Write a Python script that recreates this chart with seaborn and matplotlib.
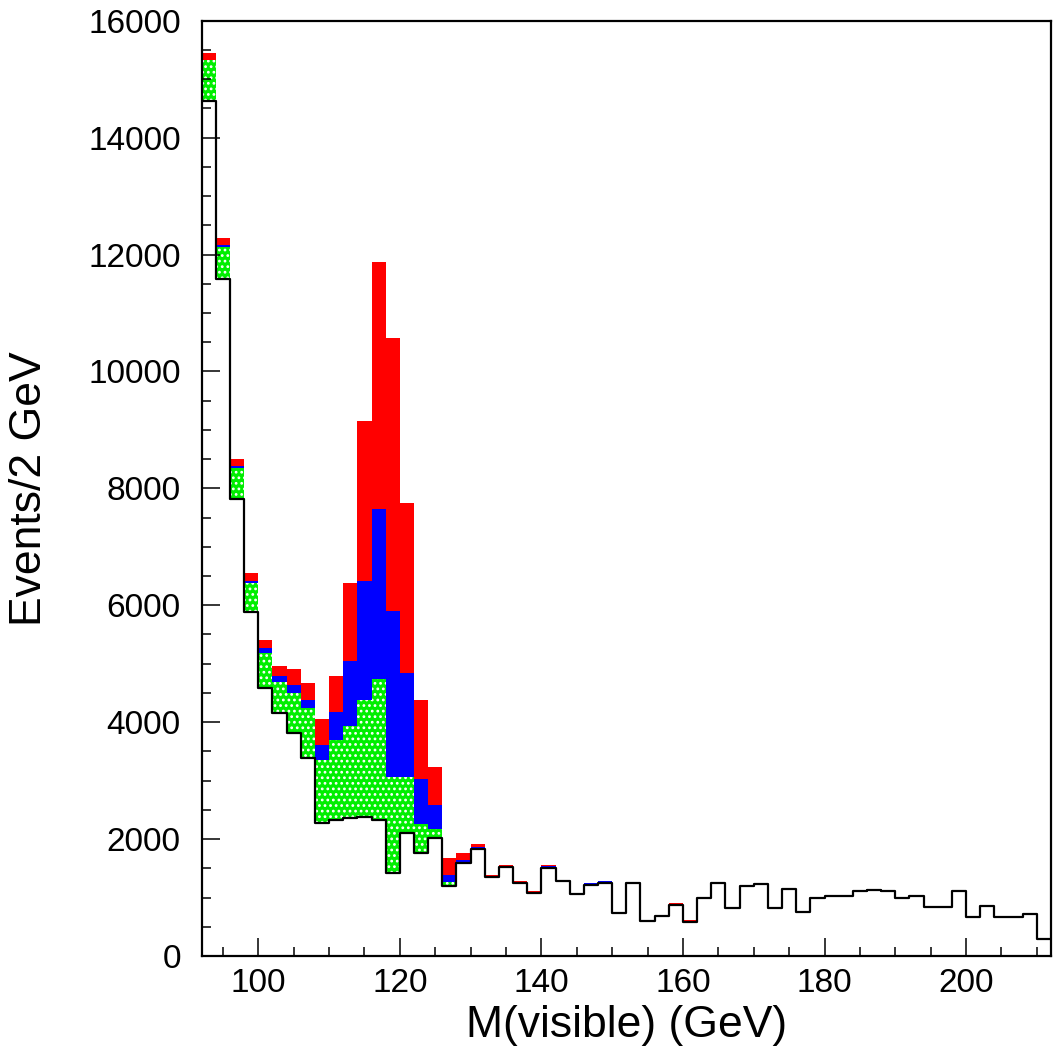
import numpy as np
import pandas as pd
import matplotlib
matplotlib.use("Agg")
import matplotlib.pyplot as plt
import seaborn as sns
from matplotlib.ticker import MultipleLocator

# ---------------- data (events per 2 GeV bin, 92..212 GeV) ----------------
bin_edges = list(range(92, 214, 2))

background = [14630, 11575, 7817, 5879, 4579, 4152, 3809, 3381, 2280, 2326,
              2355, 2372, 2326, 1425, 2109, 1757, 2013, 1190, 1585, 1825,
              1350, 1528, 1254, 1083, 1511, 1290, 1055, 1215, 1254, 741,
              1243, 604, 684, 872, 587, 997, 1243, 827, 1197, 1226,
              816, 1141, 753, 987, 1026, 1026, 1112, 1134, 1112, 987,
              1026, 833, 833, 1112, 662, 855, 662, 662, 718, 286]

green_part = [700, 548, 525, 507, 599, 530, 685, 856, 1073, 1369,
              1579, 2007, 2407, 1642, 958, 496, 154, 81, 28, 20,
              0, 0, 10, 0, 0, 0, 0, 0, 0, 0,
              0, 0, 0, 0, 0, 0, 0, 0, 0, 0,
              0, 0, 0, 0, 0, 0, 0, 0, 0, 0,
              0, 0, 0, 0, 0, 0, 0, 0, 0, 0]

blue_part = [0, 39, 45, 29, 85, 115, 142, 142, 256, 484,
             1112, 2041, 2908, 2834, 1779, 769, 416, 115, 29, 20,
             15, 0, 0, 0, 20, 15, 0, 28, 20, 0,
             0, 15, 0, 0, 0, 0, 0, 0, 0, 0,
             0, 0, 0, 0, 0, 0, 0, 0, 0, 0,
             0, 0, 0, 0, 0, 0, 0, 0, 0, 0]

red_part = [115, 115, 109, 142, 142, 160, 268, 286, 440, 616,
            1340, 2737, 4225, 4665, 2908, 1357, 655, 285, 115, 51,
            20, 30, 10, 30, 25, 0, 28, 0, 0, 15,
            0, 0, 0, 30, 30, 0, 0, 0, 0, 0,
            0, 0, 0, 0, 0, 0, 0, 0, 0, 0,
            0, 0, 0, 0, 0, 0, 0, 0, 0, 0]

x_ticks = [100, 120, 140, 160, 180, 200]
y_ticks = [0, 2000, 4000, 6000, 8000, 10000, 12000, 14000, 16000]

# ---------------- build table ----------------
edges = [float(e) for e in bin_edges]
centers = [0.5 * (a + b) for a, b in zip(edges[:-1], edges[1:])]
df = pd.DataFrame({
    "mass": centers,
    "bkg": background,
    "green": green_part,
    "blue": blue_part,
    "red": red_part,
})
df["lvl_green"] = df["bkg"] + df["green"]
df["lvl_blue"] = df["lvl_green"] + df["blue"]
df["lvl_red"] = df["lvl_blue"] + df["red"]

# ---------------- style ----------------
sns.set_style("ticks")
plt.rcParams["font.family"] = ["Liberation Sans", "DejaVu Sans"]
plt.rcParams["hatch.color"] = "white"
plt.rcParams["hatch.linewidth"] = 1.2
plt.rcParams["axes.axisbelow"] = False
plt.rcParams["text.color"] = "black"
plt.rcParams["axes.labelcolor"] = "black"

fig = plt.figure(figsize=(10.58, 10.61), dpi=100)
ax = fig.add_axes([0.1906, 0.099, 0.8028, 0.8815])

# stacked layers, drawn as cumulative fills from top down
sns.histplot(data=df, x="mass", weights="lvl_red", bins=edges, element="step",
             fill=True, color="#ff0000", alpha=1, linewidth=0, ax=ax)
sns.histplot(data=df, x="mass", weights="lvl_blue", bins=edges, element="step",
             fill=True, color="#0000ff", alpha=1, linewidth=0, ax=ax)
n_before = len(ax.collections)
sns.histplot(data=df, x="mass", weights="lvl_green", bins=edges, element="step",
             fill=True, color="#00ee00", alpha=1, linewidth=0, ax=ax)
for coll in ax.collections[n_before:]:
    coll.set_hatch("...")
    coll.set_edgecolor("white")
    coll.set_linewidth(0)
sns.histplot(data=df, x="mass", weights="bkg", bins=edges, element="step",
             fill=True, color="white", alpha=1, linewidth=0, ax=ax)
sns.histplot(data=df, x="mass", weights="bkg", bins=edges, element="step",
             fill=False, color="black", linewidth=1.6, ax=ax)

ax.set_axisbelow(False)
ax.set_xlim(92, 212)
ax.set_ylim(0, 16000)
ax.set_xticks(x_ticks)
ax.set_yticks(y_ticks)
ax.xaxis.set_minor_locator(MultipleLocator(5))
ax.yaxis.set_minor_locator(MultipleLocator(500))
ax.tick_params(axis="both", which="major", direction="in", length=13, width=1.1,
               labelsize=24, colors="black", top=False, right=False)
ax.tick_params(axis="both", which="minor", direction="in", length=6.5, width=1.1,
               colors="black", top=False, right=False)
ax.tick_params(axis="y", which="major", pad=15)
ax.tick_params(axis="x", which="major", pad=9)

for sp in ax.spines.values():
    sp.set_visible(True)
    sp.set_linewidth(1.6)
    sp.set_color("black")
    sp.set_zorder(5)

ax.set_xlabel("M(visible) (GeV)", fontsize=32, color="black")
ax.set_ylabel("Events/2 GeV", fontsize=32, color="black")
ax.xaxis.set_label_coords(0.5, -0.052)
ax.yaxis.set_label_coords(-0.178, 0.50)

fig.savefig("out.png", dpi=100, facecolor="white")
